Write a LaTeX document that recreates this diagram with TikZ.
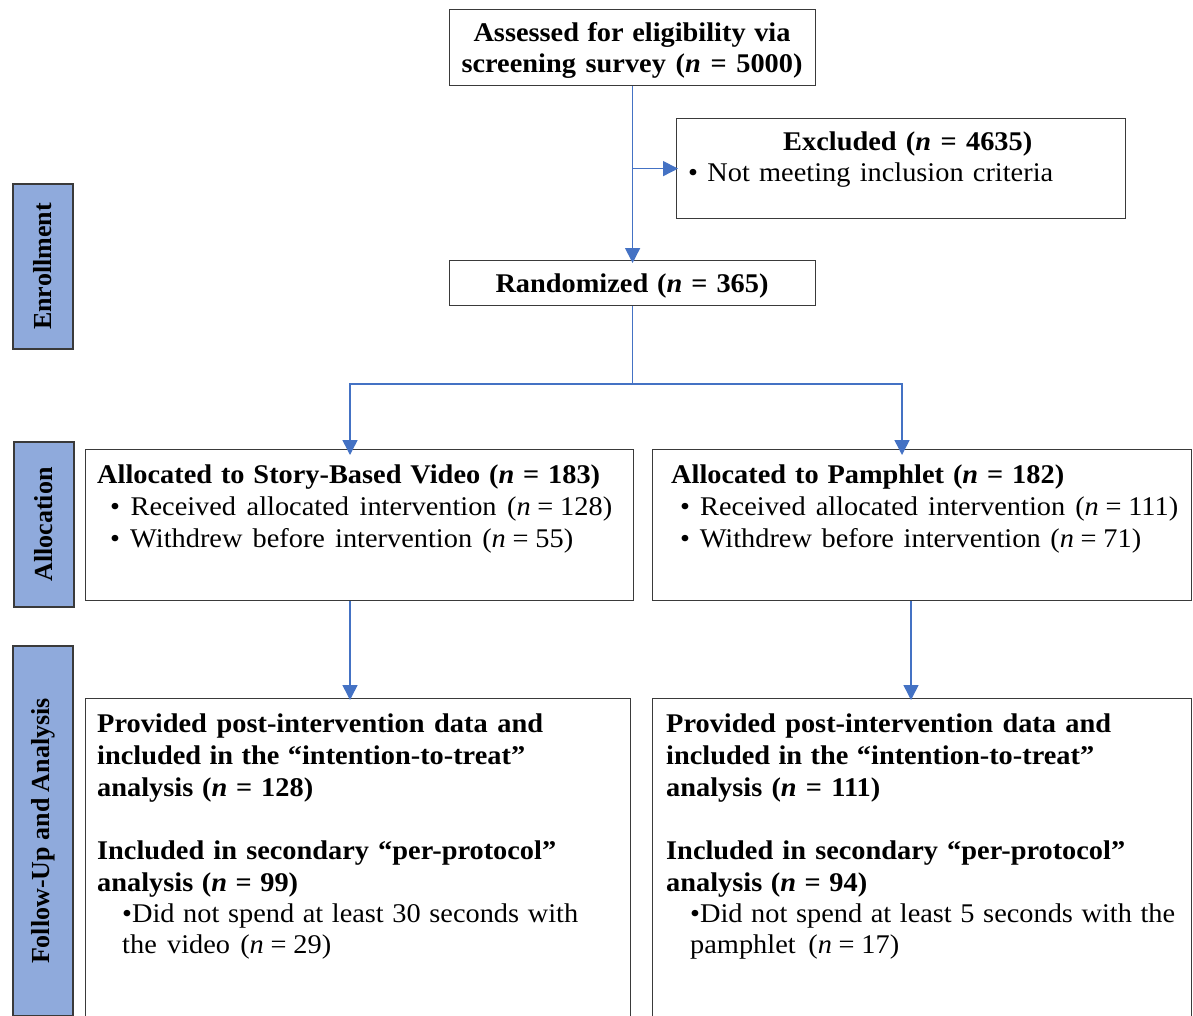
\documentclass[tikz,border=0pt]{standalone}
\usepackage{fontspec}
\setmainfont[FakeStretch=1.05]{Liberation Serif}
\newfontfamily\sidefont{Liberation Serif}
\usetikzlibrary{arrows.meta}
\definecolor{arrowblue}{HTML}{4472C4}
\definecolor{sidefill}{HTML}{8FAADC}
\definecolor{boxline}{HTML}{3A3A3A}
\newcommand\fitw[2]{\makebox[#1pt][s]{#2}}
\newcommand\eqn{\textit{n}\hspace{0.25em}=\hspace{0.25em}}
\begin{document}
\begin{tikzpicture}[x=1pt,y=-1pt,
  box/.style={draw=boxline, line width=1.2pt, fill=white, anchor=north west, inner sep=0pt},
  side/.style={draw=boxline, line width=1.2pt, fill=sidefill, rotate=90, inner sep=0pt,
    font=\sidefont\fontsize{26}{30}\selectfont\bfseries},
  conn/.style={draw=arrowblue, line width=1.5pt, -{Triangle[length=15pt,width=15pt]}},
  plainline/.style={draw=arrowblue, line width=1.5pt},
  txt/.style={anchor=base west, inner sep=0pt, font=\fontsize{27}{32}\selectfont},
  btxt/.style={txt, font=\fontsize{27}{32}\selectfont\bfseries},
  ctxt/.style={btxt, anchor=base}]
\useasboundingbox (0,0) rectangle (1193,1015);
\clip (0,0) rectangle (1193,1015);
\fill[white] (0,0) rectangle (1193,1015);

% side labels
\node[side, minimum width=165, minimum height=60] (enr) at (43,266.5) {Enrollment};
\node[side, minimum width=165, minimum height=60] (alc) at (44,524.5) {Allocation};
\node[side, minimum width=370, minimum height=60] (fua) at (43,831) {Follow-Up and Analysis};

% boxes
\node[box, minimum width=366, minimum height=76] (top) at (449,9) {};
\node[box, minimum width=449, minimum height=100] (excl) at (676,118) {};
\node[box, minimum width=366, minimum height=45] (rand) at (449,260) {};
\node[box, minimum width=548, minimum height=151] (allocL) at (85,449) {};
\node[box, minimum width=539, minimum height=151] (allocR) at (652,449) {};
\node[box, minimum width=545, minimum height=330] (fuL) at (85,698) {};
\node[box, minimum width=539, minimum height=330] (fuR) at (652,698) {};

% texts
\node[ctxt] (t1) at (632,41) {\fitw{317}{Assessed for eligibility via}};
\node[ctxt] (t2) at (632,72) {\fitw{341}{screening survey (\textit{n} = 5000)}};
\node[btxt] (e1) at (783,150) {\fitw{249}{Excluded (\textit{n} = 4635)}};
\node[txt] (e2) at (688,181) {\fitw{365}{• Not meeting inclusion criteria}};
\node[ctxt] (r1) at (632,292) {\fitw{273}{Randomized (\textit{n} = 365)}};

\node[btxt] (al1) at (97,483) {\fitw{503}{Allocated to Story-Based Video (\textit{n} = 183)}};
\node[txt] (al2) at (110,515) {\fitw{502}{• Received allocated intervention (\eqn128)}};
\node[txt] (al3) at (110,547) {\fitw{463}{• Withdrew before intervention (\eqn55)}};
\node[btxt] (ar1) at (671,483) {\fitw{393}{Allocated to Pamphlet (\textit{n} = 182)}};
\node[txt] (ar2) at (680,515) {\fitw{498}{• Received allocated intervention (\eqn111)}};
\node[txt] (ar3) at (680,547) {\fitw{461}{• Withdrew before intervention (\eqn71)}};

\node[btxt] (fl1) at (97,732) {\fitw{446}{Provided post-intervention data and}};
\node[btxt] (fl2) at (97,764) {\fitw{428}{included in the “intention-to-treat”}};
\node[btxt] (fl3) at (97,796) {\fitw{216}{analysis (\textit{n} = 128)}};
\node[btxt] (fl4) at (97,859) {\fitw{459}{Included in secondary “per-protocol”}};
\node[btxt] (fl5) at (97,891) {\fitw{201}{analysis (\textit{n} = 99)}};
\node[txt] (fl6) at (122,922) {\fitw{456}{•Did not spend at least 30 seconds with}};
\node[txt] (fl7) at (122,953) {\fitw{209}{the video (\eqn29)}};

\node[btxt] (fr1) at (666,732) {\fitw{445}{Provided post-intervention data and}};
\node[btxt] (fr2) at (666,764) {\fitw{428}{included in the “intention-to-treat”}};
\node[btxt] (fr3) at (666,796) {\fitw{214}{analysis (\textit{n} = 111)}};
\node[btxt] (fr4) at (666,859) {\fitw{459}{Included in secondary “per-protocol”}};
\node[btxt] (fr5) at (666,891) {\fitw{201}{analysis (\textit{n} = 94)}};
\node[txt] (fr6) at (690,922) {\fitw{485}{•Did not spend at least 5 seconds with the}};
\node[txt] (fr7) at (690,953) {\fitw{209}{pamphlet (\eqn17)}};

% connectors
\coordinate (xL1) at (350,0);
\coordinate (xR1) at (902,0);
\coordinate (xL2) at (350,0);
\coordinate (xR2) at (911,0);
\draw[conn] (top.south) -- ([yshift=-3pt]rand.north);
\draw[conn] (top.south |- excl.west) -- ([xshift=2pt]excl.west);
\draw[plainline] (rand.south) -- ++(0,78) coordinate (split);
\draw[conn] (split) -| ([yshift=-6pt]xL1 |- allocL.north);
\draw[conn] (split) -| ([yshift=-6pt]xR1 |- allocR.north);
\draw[conn] (xL2 |- allocL.south) -- ([yshift=-2pt]xL2 |- fuL.north);
\draw[conn] (xR2 |- allocR.south) -- ([yshift=-2pt]xR2 |- fuR.north);
\end{tikzpicture}
\end{document}
